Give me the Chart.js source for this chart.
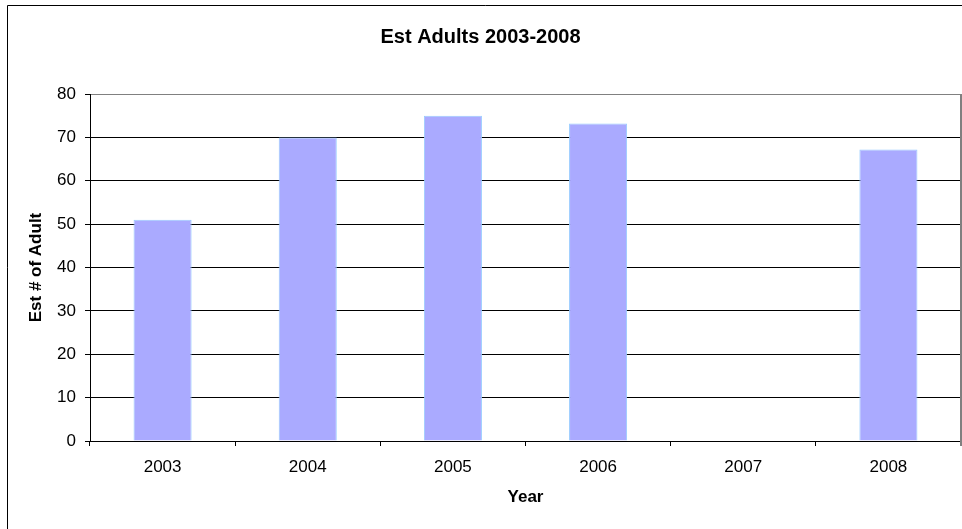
<!DOCTYPE html>
<html>
<head>
<meta charset="utf-8">
<script src="https://cdn.jsdelivr.net/npm/chart.js@4"></script>
<style>
  html, body { margin: 0; padding: 0; background: #fff; overflow: hidden; }
</style>
</head>
<body>
<canvas id="myChart" width="962" height="529"></canvas>
<script>
var years = ['2003', '2004', '2005', '2006', '2007', '2008'];
var adults = [51, 70, 75, 73.2, null, 67.2];
var yTicks = [0, 10, 20, 30, 40, 50, 60, 70, 80];

var barColor = '#AAAAFF';
var barEdge = '#99CCFF';

// outer frame + right edge of the plot
var framePlugin = {
  id: 'frame',
  afterDraw: function(chart){
    var ctx = chart.ctx;
    var a = chart.chartArea;
    ctx.save();
    ctx.strokeStyle = '#000';
    ctx.lineWidth = 1;
    ctx.beginPath();
    ctx.moveTo(7.5, 600);
    ctx.lineTo(7.5, 5.5);
    ctx.lineTo(1000, 5.5);
    ctx.stroke();
    ctx.strokeStyle = '#808080';
    ctx.lineWidth = 2;
    ctx.beginPath();
    ctx.moveTo(a.right, a.top);
    ctx.lineTo(a.right, a.bottom + 5);
    ctx.stroke();
    ctx.restore();
  }
};

var ctx = document.getElementById('myChart').getContext('2d');
var myChart = new Chart(ctx, {
  type: 'bar',
  data: {
    labels: years,
    datasets: [{
      label: 'Est # of Adult',
      data: adults,
      backgroundColor: barColor,
      borderColor: barEdge,
      borderWidth: 1,
      barPercentage: 0.4,
      categoryPercentage: 1
    }]
  },
  options: {
    responsive: false,
    animation: false,
    layout: { padding: { left: 0, right: 1, top: 0, bottom: 0 } },
    plugins: {
      legend: { display: false },
      tooltip: { enabled: false },
      title: {
        display: true,
        text: 'Est Adults 2003-2008',
        color: '#000',
        font: { family: 'Liberation Sans', size: 20, weight: 'bold' },
        padding: { top: 25, bottom: 45 }
      }
    },
    scales: {
      x: {
        grid: { drawOnChartArea: false, tickLength: 5, tickColor: '#000' },
        border: { color: '#000', width: 1 },
        ticks: { color: '#000', padding: 11, font: { family: 'Liberation Sans', size: 17 } },
        title: {
          display: true,
          text: 'Year',
          color: '#000',
          font: { family: 'Liberation Sans', size: 17, weight: 'bold' },
          padding: { top: 0, bottom: 21 }
        },
        afterFit: function(scale){ scale.height = 88; }
      },
      y: {
        min: 0,
        max: 80,
        afterBuildTicks: function(scale){
          scale.ticks = yTicks.map(function(v){ return { value: v }; });
        },
        grid: {
          color: function(c){ return c.tick && c.tick.value === 80 ? '#808080' : '#000'; },
          tickLength: 5,
          tickColor: '#000'
        },
        border: { color: '#000', width: 1 },
        ticks: { color: '#000', padding: 9, font: { family: 'Liberation Sans', size: 17 } },
        title: {
          display: true,
          text: 'Est # of Adult',
          color: '#000',
          font: { family: 'Liberation Sans', size: 17, weight: 'bold' },
          padding: { top: 26, bottom: 0 }
        },
        afterFit: function(scale){ scale.width = 90; }
      }
    }
  },
  plugins: [framePlugin]
});
</script>
</body>
</html>
